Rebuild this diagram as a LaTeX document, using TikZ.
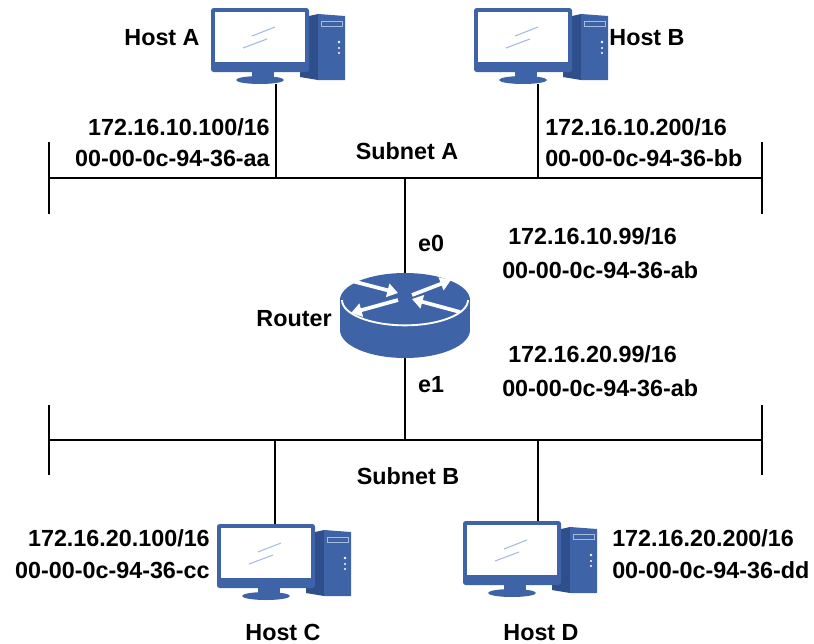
\documentclass[tikz,border=0pt]{standalone}
\usepackage{fontspec}
\setmainfont{Liberation Sans}
\usetikzlibrary{arrows.meta}

\definecolor{devblue}{HTML}{3E63A6}
\definecolor{devdark}{HTML}{2F4F8C}
\definecolor{devlight}{HTML}{A7BBDF}

\tikzset{
  lbl/.style={font=\bfseries\fontsize{17.5}{21}\selectfont, inner sep=0pt},
  bus/.style={line width=1.8pt},
  tap/.style={line width=1.5pt},
  rtarrow/.style={white, line width=2.8pt, -{Triangle[width=10pt,length=8pt]}},
  % desktop PC, origin in the middle of the monitor
  pics/pc/.style={code={
    % tower
    \fill[devdark] (40,-22) -- (58,-26) -- (58,40) -- (40,37) -- cycle;
    \fill[devblue] (58,-26) -- (85,-24) -- (85,40) -- (58,40) -- cycle;
    \draw[devlight, line width=0.6pt] (61,-19) rectangle (82,-14);
    \fill[white] (79,2) circle (1pt) (79,8) circle (0.8pt) (79,13) circle (0.8pt);
    % stand
    \fill[devblue] (-8,31) rectangle (14,38);
    \fill[devblue] (0,40) ellipse [x radius=18pt, y radius=3pt];
    % monitor
    \fill[devblue, rounded corners=2pt] (-49,-32) rectangle (49,32);
    \fill[white] (-45,-28) rectangle (45,22);
    \draw[devlight, line width=0.8pt] (-8,-4) -- (15,-13) (-17,8) -- (7,-1);
  }},
}

\begin{document}
\begin{tikzpicture}[x=0.75pt, y=-0.75pt]
  \useasboundingbox (0,0) rectangle (814,643);

  % Busse
  \coordinate (busA-w) at (49,178);
  \coordinate (busA-e) at (762,178);
  \coordinate (busB-w) at (49,440);
  \coordinate (busB-e) at (762,440);
  \draw[bus] (busA-w) -- (busA-e);
  \draw[bus] (busA-w) ++(0,-36) -- ++(0,72);
  \draw[bus] (busA-e) ++(0,-36) -- ++(0,72);
  \draw[bus] (busB-w) -- (busB-e);
  \draw[bus] (busB-w) ++(0,-35) -- ++(0,70);
  \draw[bus] (busB-e) ++(0,-35) -- ++(0,70);

  % Hosts
  \pic (pcA) at (260,40) {pc};
  \pic (pcB) at (523,40) {pc};
  \pic (pcC) at (266,556) {pc};
  \pic (pcD) at (512,553) {pc};
  \coordinate (portA) at (276,84);
  \coordinate (portB) at (538,84);
  \coordinate (portC) at (275,524);
  \coordinate (portD) at (538,521);
  \draw[tap] (portA) -- (portA |- busA-w);
  \draw[tap] (portB) -- (portB |- busA-w);
  \draw[tap] (portC) -- (portC |- busB-w);
  \draw[tap] (portD) -- (portD |- busB-w);

  % Router
  \coordinate (rt) at (405,300);
  \coordinate (rt-top) at (405,274);
  \coordinate (rt-bot) at (405,357);
  \draw[tap] (rt-top) -- (rt-top |- busA-w);
  \draw[tap] (rt-bot) -- (rt-bot |- busB-w);
  \fill[devblue] (405,330) ellipse [x radius=48.75pt, y radius=21pt];
  \fill[devblue] (340,300) rectangle (470,330);
  \fill[devblue] (rt) ellipse [x radius=48.75pt, y radius=20.25pt];
  \draw[white, line width=1.4pt] (342,300)
    arc[start angle=180, end angle=360, x radius=47.25pt, y radius=19pt];
  \draw[rtarrow] (352,281) -- (398,293);
  \draw[rtarrow] (398,300) -- (351,313);
  \draw[rtarrow] (412,295) -- (451,280);
  \draw[rtarrow] (460,312) -- (412,299);

  % Beschriftungen
  \node[lbl, anchor=base] (hostA) at (162,45) {Host A};
  \node[lbl, anchor=base] (hostB) at (647,45) {Host B};
  \node[lbl, anchor=base] (hostC) at (283,640) {Host C};
  \node[lbl, anchor=base] (hostD) at (541,640) {Host D};
  \node[lbl, anchor=base] (router) at (294,326) {Router};
  \node[lbl, anchor=base] (subA) at (407,159) {Subnet A};
  \node[lbl, anchor=base] (subB) at (408,484) {Subnet B};
  \node[lbl, anchor=base] (e0) at (431,251) {e0};
  \node[lbl, anchor=base] (e1) at (431,392) {e1};

  \node[lbl, anchor=base east] (ipA) at (270,135) {172.16.10.100/16};
  \node[lbl, anchor=base east] (macA) at (270,166) {00-00-0c-94-36-aa};
  \node[lbl, anchor=base west] (ipB) at (545,135) {172.16.10.200/16};
  \node[lbl, anchor=base west] (macB) at (545,166) {00-00-0c-94-36-bb};
  \node[lbl, anchor=base west] (ipE0) at (508,244) {172.16.10.99/16};
  \node[lbl, anchor=base west] (macE0) at (502,278) {00-00-0c-94-36-ab};
  \node[lbl, anchor=base west] (ipE1) at (508,362) {172.16.20.99/16};
  \node[lbl, anchor=base west] (macE1) at (502,396) {00-00-0c-94-36-ab};
  \node[lbl, anchor=base east] (ipC) at (210,546) {172.16.20.100/16};
  \node[lbl, anchor=base east] (macC) at (210,578) {00-00-0c-94-36-cc};
  \node[lbl, anchor=base west] (ipD) at (612,546) {172.16.20.200/16};
  \node[lbl, anchor=base west] (macD) at (612,578) {00-00-0c-94-36-dd};
\end{tikzpicture}
\end{document}
